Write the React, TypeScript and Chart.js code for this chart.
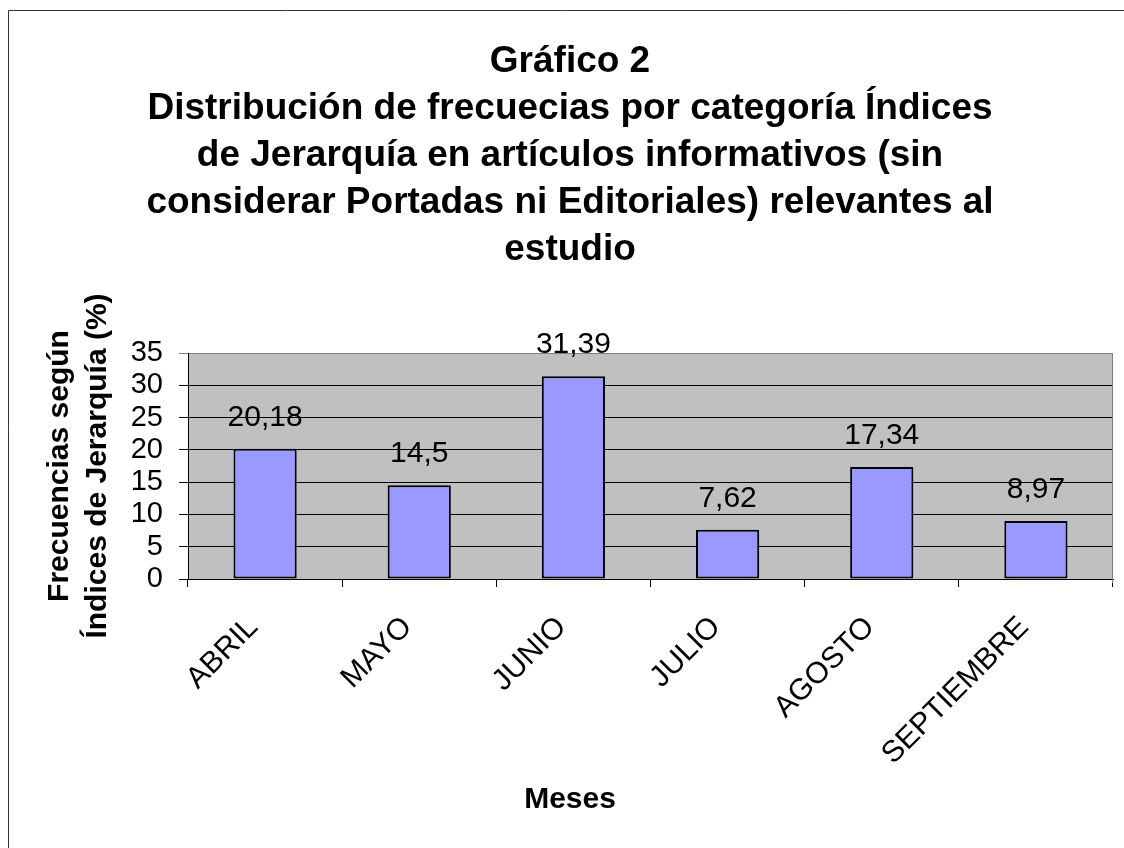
import React, { useEffect, useRef } from "react";
import { Chart, registerables } from "chart.js";

Chart.register(...registerables);

const categories = ["ABRIL", "MAYO", "JUNIO", "JULIO", "AGOSTO", "SEPTIEMBRE"];
const values = [20.18, 14.5, 31.39, 7.62, 17.34, 8.97];
const yTicks = [0, 5, 10, 15, 20, 25, 30, 35];
const titleLines = [
  "Gráfico 2",
  "Distribución de frecuecias por categoría Índices",
  "de Jerarquía en artículos informativos (sin",
  "considerar Portadas ni Editoriales) relevantes al",
  "estudio",
];
const yTitleLines = ["Frecuencias según", "Índices de Jerarquía (%)"];
const xTitle = "Meses";

const FONT = "'Liberation Sans', Arial, Helvetica, sans-serif";

const decorPlugin = {
  id: "decor",
  beforeDraw(chart: any) {
    const { ctx, chartArea } = chart;
    ctx.save();
    // outer frame (left and top edges visible)
    ctx.strokeStyle = "#333333";
    ctx.lineWidth = 1;
    ctx.beginPath();
    ctx.moveTo(8.5, chart.height);
    ctx.lineTo(8.5, 10.5);
    ctx.lineTo(chart.width, 10.5);
    ctx.stroke();
    // plot background
    ctx.fillStyle = "#c0c0c0";
    ctx.fillRect(chartArea.left, chartArea.top, chartArea.right - chartArea.left, chartArea.bottom - chartArea.top);
    ctx.restore();
  },
  afterDatasetsDraw(chart: any) {
    const { ctx, chartArea } = chart;
    ctx.save();
    // right border of plot area
    ctx.strokeStyle = "#808080";
    ctx.lineWidth = 1;
    ctx.beginPath();
    const rx = Math.round(chartArea.right) - 0.5;
    ctx.moveTo(rx, chartArea.top);
    ctx.lineTo(rx, chartArea.bottom + 4);
    ctx.stroke();
    // data labels
    const meta = chart.getDatasetMeta(0);
    ctx.fillStyle = "#000";
    ctx.font = `30px ${FONT}`;
    ctx.textAlign = "center";
    ctx.textBaseline = "alphabetic";
    meta.data.forEach((bar: any, i: number) => {
      const label = String(values[i]).replace(".", ",");
      ctx.fillText(label, bar.x, bar.y - 23);
    });
    ctx.restore();
  },
};

export default function App() {
  const canvasRef = useRef<HTMLCanvasElement | null>(null);

  useEffect(() => {
    if (!canvasRef.current) return;
    Chart.defaults.font.family = FONT;
    const chart = new Chart(canvasRef.current, {
      type: "bar",
      data: {
        labels: categories,
        datasets: [
          {
            data: values,
            backgroundColor: "#9999ff",
            borderColor: "#000000",
            borderWidth: 2,
            borderSkipped: false,
            barPercentage: 0.41,
            categoryPercentage: 1,
          },
        ],
      },
      options: {
        animation: false,
        responsive: false,
        devicePixelRatio: 1,
        layout: { padding: { left: 27, right: 11, top: 0, bottom: 0 } },
        plugins: {
          legend: { display: false },
          tooltip: { enabled: false },
          title: {
            display: true,
            text: titleLines,
            color: "#000",
            font: { size: 37, weight: "bold", lineHeight: 47 / 37 },
            padding: { top: 38.5, bottom: 79.5 },
          },
          subtitle: {
            display: true,
            position: "bottom",
            text: xTitle,
            color: "#000",
            font: { size: 30, weight: "bold", lineHeight: 38 / 30 },
            padding: { top: 0, bottom: 29 },
          },
        },
        scales: {
          x: {
            grid: {
              drawOnChartArea: false,
              drawTicks: true,
              tickLength: 8,
              color: "#000",
              offset: true,
            },
            border: { color: "#000", width: 1 },
            ticks: {
              color: "#000",
              font: { size: 30 },
              minRotation: 45,
              maxRotation: 45,
              autoSkip: false,
              padding: 11,
              callback: (_v: any, i: number) => categories[i] + "  ",
            },
            afterFit(scale: any) {
              scale.height = 202;
            },
          },
          y: {
            min: 0,
            max: 35,
            grid: {
              color: (c: any) => (c.tick && c.tick.value === 35 ? "#808080" : "#000"),
              tickLength: 9,
              drawTicks: true,
            },
            border: { color: "#000", width: 1 },
            ticks: {
              color: "#000",
              font: { size: 29 },
              padding: 16,
              autoSkip: false,
            },
            afterBuildTicks(scale: any) {
              scale.ticks = yTicks.map((v) => ({ value: v }));
            },
            title: {
              display: true,
              text: yTitleLines,
              color: "#000",
              font: { size: 30, weight: "bold", lineHeight: 38 / 30 },
              padding: { top: 14, bottom: 0 },
            },
            afterFit(scale: any) {
              scale.width = 161;
            },
          },
        },
      },
      plugins: [decorPlugin],
    });
    return () => chart.destroy();
  }, []);

  return (
    <div style={{ position: "absolute", left: 0, top: 0, width: 1124, height: 848, background: "#fff" }}>
      <canvas ref={canvasRef} width={1124} height={848} style={{ display: "block" }} />
    </div>
  );
}
